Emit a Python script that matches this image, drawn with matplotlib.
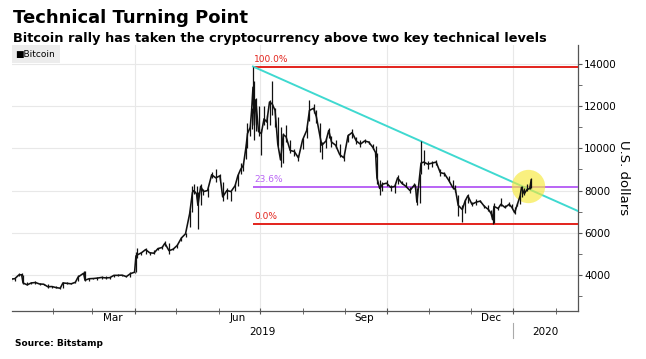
#!/usr/bin/env python3
"""Bitcoin technical turning point chart (Bloomberg style)."""
import pandas as pd
import matplotlib
matplotlib.use("Agg")
import matplotlib.pyplot as plt
import matplotlib.dates as mdates
import matplotlib.transforms as mtransforms
from matplotlib.patches import Rectangle

# ---- data (Bitstamp BTC/USD) ----
dates = [
    "2019-01-01", "2019-01-04", "2019-01-07", "2019-01-09", "2019-01-10", "2019-01-13", "2019-01-16",
    "2019-01-19", "2019-01-22", "2019-01-25", "2019-01-28", "2019-01-31", "2019-02-03", "2019-02-06",
    "2019-02-08", "2019-02-11", "2019-02-14", "2019-02-17", "2019-02-19", "2019-02-23", "2019-02-24",
    "2019-02-27", "2019-03-02", "2019-03-05", "2019-03-08", "2019-03-11", "2019-03-14", "2019-03-17",
    "2019-03-20", "2019-03-23", "2019-03-26", "2019-03-29", "2019-04-01", "2019-04-02", "2019-04-03",
    "2019-04-06", "2019-04-09", "2019-04-12", "2019-04-15", "2019-04-18", "2019-04-21", "2019-04-23",
    "2019-04-26", "2019-04-29", "2019-05-02", "2019-05-05", "2019-05-08", "2019-05-11", "2019-05-13",
    "2019-05-14", "2019-05-16", "2019-05-17", "2019-05-19", "2019-05-21", "2019-05-24", "2019-05-27",
    "2019-05-30", "2019-06-02", "2019-06-04", "2019-06-07", "2019-06-10", "2019-06-13", "2019-06-15",
    "2019-06-17", "2019-06-19", "2019-06-21", "2019-06-22", "2019-06-24", "2019-06-25", "2019-06-26",
    "2019-06-27", "2019-06-28", "2019-06-30", "2019-07-02", "2019-07-04", "2019-07-06", "2019-07-08",
    "2019-07-10", "2019-07-12", "2019-07-14", "2019-07-16", "2019-07-18", "2019-07-20", "2019-07-23",
    "2019-07-26", "2019-07-29", "2019-08-01", "2019-08-04", "2019-08-06", "2019-08-09", "2019-08-11",
    "2019-08-14", "2019-08-15", "2019-08-18", "2019-08-20", "2019-08-22", "2019-08-25", "2019-08-28",
    "2019-08-31", "2019-09-03", "2019-09-06", "2019-09-09", "2019-09-12", "2019-09-15", "2019-09-18",
    "2019-09-21", "2019-09-23", "2019-09-24", "2019-09-26", "2019-09-28", "2019-10-01", "2019-10-04",
    "2019-10-07", "2019-10-09", "2019-10-12", "2019-10-15", "2019-10-18", "2019-10-21", "2019-10-22",
    "2019-10-23", "2019-10-25", "2019-10-26", "2019-10-28", "2019-10-31", "2019-11-03", "2019-11-06",
    "2019-11-09", "2019-11-12", "2019-11-15", "2019-11-18", "2019-11-20", "2019-11-22", "2019-11-25",
    "2019-11-27", "2019-11-29", "2019-12-02", "2019-12-05", "2019-12-08", "2019-12-11", "2019-12-14",
    "2019-12-16", "2019-12-17", "2019-12-18", "2019-12-21", "2019-12-23", "2019-12-26", "2019-12-29",
    "2019-12-31", "2020-01-02", "2020-01-04", "2020-01-06", "2020-01-07", "2020-01-09", "2020-01-11",
    "2020-01-13", "2020-01-14",
]
close = [
    3800, 3820, 4000, 4010, 3620, 3530, 3620, 3640, 3570, 3560, 3440, 3450, 3400, 3370,
    3620, 3600, 3580, 3650, 3900, 4080, 3750, 3820, 3830, 3850, 3880, 3860, 3870, 3980,
    3980, 3990, 3920, 4060, 4130, 4900, 4950, 5050, 5200, 5050, 5030, 5250, 5300, 5500,
    5150, 5220, 5400, 5750, 5950, 6900, 7900, 8000, 7850, 7300, 8200, 7950, 8000, 8750,
    8600, 8700, 7700, 8000, 7950, 8230, 8700, 9000, 9200, 10100, 10700, 11000, 11800, 12900,
    11100, 12300, 10800, 10700, 11400, 11250, 12200, 12100, 11800, 10200, 9450, 10650, 10550, 9900,
    9850, 9550, 10400, 10850, 11800, 11900, 11500, 10450, 10150, 10350, 10850, 10300, 10150, 9700,
    9550, 10600, 10750, 10350, 10200, 10350, 10300, 10050, 9800, 8600, 8100, 8300, 8350, 8150,
    8200, 8600, 8350, 8200, 8000, 8250, 8200, 7450, 8700, 9300, 9350, 9250, 9300, 9350,
    8850, 8800, 8500, 8150, 8050, 7300, 7100, 7500, 7750, 7350, 7450, 7500, 7250, 7100,
    6900, 6620, 7250, 7150, 7350, 7200, 7350, 7200, 6950, 7350, 7750, 8150, 7850, 8050,
    8100, 8500,
]
high = [
    3850, 3850, 4080, 4100, 4020, 3650, 3660, 3700, 3610, 3590, 3560, 3480, 3460, 3430,
    3680, 3650, 3620, 3680, 4000, 4180, 4200, 3860, 3870, 3880, 3940, 3930, 3900, 4010,
    4030, 4020, 3970, 4120, 4160, 5100, 5300, 5100, 5300, 5100, 5200, 5300, 5350, 5600,
    5500, 5260, 5470, 5780, 6000, 7100, 8200, 8300, 8200, 7950, 8300, 8050, 8100, 8900,
    9000, 8800, 8400, 8100, 8000, 8300, 8800, 9300, 9300, 10200, 11200, 11100, 11900, 13880,
    13200, 12400, 12000, 10900, 12000, 11600, 12300, 13200, 11900, 11500, 11000, 10750, 11100, 10400,
    9950, 9700, 10500, 11000, 12300, 12100, 11800, 11200, 10300, 10500, 10950, 10600, 10400, 10200,
    9700, 10700, 10900, 10550, 10400, 10450, 10350, 10200, 10100, 9800, 8500, 8400, 8500, 8250,
    8300, 8750, 8450, 8400, 8150, 8350, 8300, 8100, 8800, 10350, 9900, 9400, 9400, 9450,
    9000, 8900, 8700, 8500, 8250, 7800, 7300, 7600, 7850, 7450, 7600, 7550, 7300, 7300,
    7100, 6950, 7400, 7200, 7650, 7300, 7450, 7350, 7200, 7400, 7800, 8200, 8100, 8300,
    8200, 8600,
]
low = [
    3700, 3730, 3960, 3960, 3570, 3500, 3570, 3580, 3520, 3510, 3400, 3400, 3380, 3340,
    3370, 3560, 3560, 3600, 3700, 3950, 3700, 3720, 3790, 3780, 3820, 3820, 3820, 3900,
    3940, 3950, 3880, 3920, 4080, 4120, 4800, 4950, 5000, 4950, 5000, 5200, 5250, 5350,
    5000, 5160, 5300, 5600, 5800, 6250, 7000, 7850, 7600, 6200, 7300, 7800, 7700, 8600,
    8400, 8500, 7500, 7600, 7500, 8000, 8200, 8800, 8950, 9500, 10000, 10600, 10900, 11700,
    10400, 10800, 10600, 9700, 11100, 10900, 11100, 11600, 11000, 10100, 9100, 9300, 10300, 9800,
    9650, 9400, 9950, 10500, 11300, 11700, 11200, 9850, 9500, 10000, 10500, 10050, 10000, 9600,
    9400, 10300, 10500, 10200, 10050, 10250, 10200, 9950, 9600, 8300, 7800, 8000, 8200, 8000,
    7900, 8300, 8300, 8150, 7900, 8200, 8050, 7300, 7400, 8800, 9200, 9000, 9100, 9200,
    8700, 8700, 8450, 8050, 7950, 6800, 6500, 6950, 7400, 7250, 7300, 7450, 7150, 7050,
    6850, 6430, 6450, 7100, 7250, 7150, 7250, 7150, 6900, 7250, 7350, 7700, 7800, 8000,
    8050, 8100,
]

FIB_START = "2019-06-26"
FIB_LEVELS = [13880, 8190, 6430]
FIB_LABELS = ["100.0%", "23.6%", "0.0%"]
TREND_DATES = ["2019-06-26", "2020-02-17"]
TREND_VALUES = [13880, 7030]
CIRCLE_DATE = "2020-01-12"
CIRCLE_VALUE = 8200
X_START, X_END = "2019-01-02", "2020-02-17"
MONTH_LABELS = ["Mar", "Jun", "Sep", "Dec"]
MONTH_LABEL_DATES = ["2019-03-16", "2019-06-15", "2019-09-15", "2019-12-16"]
YEAR_BREAK = "2020-01-01"

RED = "#e3231c"
PURPLE = "#b964f5"
CYAN = "#3fd9d0"
YELLOW = "#f7e93a"
GRID = "#e8e8e8"
AXIS = "#555555"

W, H = 646, 359
fig = plt.figure(figsize=(W / 100, H / 100), dpi=100)
ax = fig.add_axes([12 / W, 1 - 311 / H, (578 - 12) / W, (311 - 45) / H])

xd = pd.to_datetime(dates)
x0, x1 = pd.Timestamp(X_START), pd.Timestamp(X_END)

# gridlines
ax.grid(True, which="major", color=GRID, lw=0.8)
ax.set_axisbelow(True)

# fib levels + trend line
fib_colors = [RED, PURPLE, RED]
fs = pd.Timestamp(FIB_START)
for lvl, lab, c in zip(FIB_LEVELS, FIB_LABELS, fib_colors):
    ax.hlines(lvl, fs, x1, color=c, lw=1.4, zorder=3)
    ax.text(fs + pd.Timedelta(days=1), lvl + 120, lab, color=c, fontsize=6.5, va="bottom", ha="left", zorder=4)
ax.plot(pd.to_datetime(TREND_DATES), TREND_VALUES, color=CYAN, lw=1.4, zorder=3)

# highlight circle
ax.plot([pd.Timestamp(CIRCLE_DATE)], [CIRCLE_VALUE], "o", ms=24, color=YELLOW, alpha=0.65, mec="none", zorder=4)

# price: high-low bars + close line
ax.vlines(xd, low, high, color="#111111", lw=0.9, zorder=5)
ax.plot(xd, close, color="#111111", lw=1.15, zorder=5)

ax.set_xlim(x0, x1)
ax.set_ylim(2290, 14900)

# axes styling
for s in ("left", "top"):
    ax.spines[s].set_visible(False)
for s in ("right", "bottom"):
    ax.spines[s].set_color(AXIS)
    ax.spines[s].set_linewidth(0.9)
ax.yaxis.tick_right()
ax.yaxis.set_label_position("right")
ax.set_yticks(range(4000, 14001, 2000))
ax.set_yticks(range(3000, 14001, 1000), minor=True)
ax.tick_params(axis="y", which="both", direction="out", length=3, color=AXIS, labelsize=7.5, pad=1.5)
ax.set_ylabel("U.S. dollars", rotation=270, fontsize=9.5, labelpad=9)

ax.xaxis.set_major_locator(mdates.MonthLocator(bymonth=[1, 4, 7, 10]))
ax.xaxis.set_minor_locator(mdates.MonthLocator())
ax.xaxis.set_major_formatter(plt.NullFormatter())
ax.tick_params(axis="x", which="both", direction="inout", length=4, color=AXIS)

tr = mtransforms.blended_transform_factory(ax.transData, ax.transAxes)
for lab, d in zip(MONTH_LABELS, MONTH_LABEL_DATES):
    ax.text(pd.Timestamp(d), -0.028, lab, transform=tr, ha="center", va="center", fontsize=7.5)
yb = pd.Timestamp(YEAR_BREAK)
ax.text(x0 + (yb - x0) / 2, -0.08, "2019", transform=tr, ha="center", va="center", fontsize=7.5)
ax.text(yb + (x1 - yb) / 2, -0.08, "2020", transform=tr, ha="center", va="center", fontsize=7.5)
ax.plot([yb, yb], [-0.045, -0.10], transform=tr, color="#aaaaaa", lw=0.8, clip_on=False)

# legend box
fig.patches.append(Rectangle((12 / W, 1 - 63 / H), 48 / W, 18 / H, transform=fig.transFigure,
                             fc="#ececec", ec="none", zorder=1))
fig.text(15 / W, 1 - 54 / H, "\u25a0Bitcoin", fontsize=6.5, va="center", ha="left", zorder=2)

# titles and source
fig.text(13 / W, 1 - 23 / H, "Technical Turning Point", fontsize=13, fontweight="bold", va="baseline")
fig.text(13 / W, 1 - 42 / H, "Bitcoin rally has taken the cryptocurrency above two key technical levels",
         fontsize=9.3, fontweight="bold", va="baseline")
fig.text(15 / W, 1 - 344 / H, "Source: Bitstamp", fontsize=6.5, fontweight="bold", va="center")

fig.savefig("out.png", dpi=100)
